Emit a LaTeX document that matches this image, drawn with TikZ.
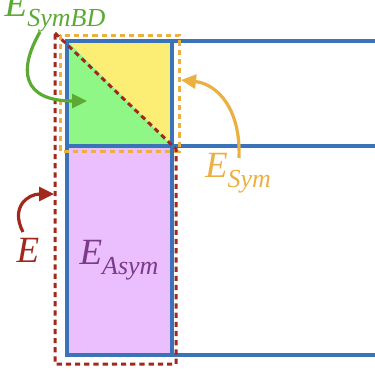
\documentclass[tikz,border=0pt]{standalone}
\usepackage{fontspec}
\setmainfont{Liberation Serif}
\usetikzlibrary{arrows.meta}

\definecolor{blueln}{HTML}{3B73B9}
\definecolor{yellowfill}{HTML}{FCEE74}
\definecolor{greenfill}{HTML}{8EF785}
\definecolor{purplefill}{HTML}{EBBFFD}
\definecolor{redln}{HTML}{A3281C}
\definecolor{orangeln}{HTML}{EBB042}
\definecolor{greenln}{HTML}{5CAA33}
\definecolor{purpletxt}{HTML}{7B3A8A}

\newcommand{\elab}[1]{\textit{E}\raisebox{-5pt}{\fontsize{13}{13}\selectfont\textit{#1}}}

\begin{document}
\begin{tikzpicture}[
        x=0.5pt, y=-0.5pt,
        grid/.style={draw=blueln, line width=2pt},
        region/.style={dash pattern=on 2.6pt off 2pt, line width=1.5pt},
        lbl/.style={inner sep=0pt, font=\fontsize{18.5}{18}\selectfont},
        callout/.style={-{Triangle[length=7.5pt, width=7pt]}, line width=1.6pt}
      ]
      \useasboundingbox (0,0) rectangle (375,375);

      % Fills
      \fill[yellowfill] (67,41) -- (172,41) -- (172,146) -- cycle;
      \fill[greenfill] (67,41) -- (67,146) -- (172,146) -- cycle;
      \fill[purplefill] (67,146) rectangle (172,355);

      % Grid lines
      \draw[grid] (375,41) -- (67,41) -- (67,355) -- (375,355);
      \draw[grid] (172,41) -- (172,355);
      \draw[grid] (67,146) -- (375,146);

      % Regions
      \draw[region, orangeln] (60,35) rectangle (179,151);
      \draw[region, redln] (55,33) -- (176,149) -- (176,364) -- (55,364) -- cycle;

      % Labels
      \node[lbl, text=greenln] (symbd) at (55,12) {\elab{SymBD}};
      \node[lbl, text=orangeln] (sym) at (238,173) {\elab{Sym}};
      \node[lbl, text=redln] (full) at (28,250) {\textit{E}};
      \node[lbl, text=purpletxt] (asym) at (119,260) {\elab{Asym}};

      % Arrow ends
      \coordinate (symbdstart) at (40,32);
      \coordinate (symbdtip) at (87,101);
      \coordinate (symstart) at (239,158);
      \coordinate (symtip) at (181,80);
      \coordinate (fullstart) at (23,232);
      \coordinate (fulltip) at (54,194);

      % Callouts
      \draw[callout, greenln] (symbdstart) .. controls (18,70) and (22,101) .. (symbdtip);
      \draw[callout, orangeln] (symstart) .. controls (241,110) and (218,84) .. (symtip);
      \draw[callout, redln] (fullstart) .. controls (10,207) and (28,194) .. (fulltip);

    \end{tikzpicture}
\end{document}
